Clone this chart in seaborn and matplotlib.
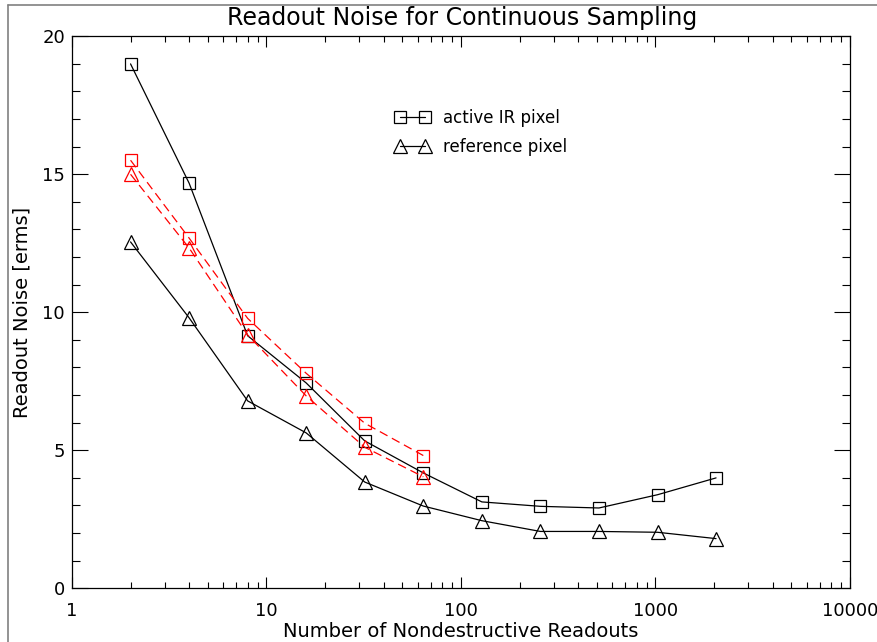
import matplotlib
matplotlib.use('Agg')
import matplotlib.pyplot as plt
import seaborn as sns
import numpy as np
from matplotlib.lines import Line2D
from matplotlib.ticker import FixedLocator, LogLocator, NullFormatter, MultipleLocator

# number of nondestructive readouts
readouts = [2, 4, 8, 16, 32, 64, 128, 256, 512, 1024, 2048]
readouts_red = [2, 4, 8, 16, 32, 64]

# readout noise (e rms)
active_ir = [19.0, 14.68, 9.15, 7.44, 5.34, 4.18, 3.13, 2.97, 2.91, 3.39, 4.0]
reference = [12.55, 9.8, 6.79, 5.63, 3.85, 2.98, 2.45, 2.06, 2.06, 2.03, 1.8]
active_ir_red = [15.51, 12.69, 9.78, 7.79, 5.98, 4.81]
reference_red = [15.0, 12.33, 9.18, 6.97, 5.11, 4.04]

xticks = [1, 10, 100, 1000, 10000]
xticklabels = ['1', '10', '100', '1000', '10000']
yticks = [0, 5, 10, 15, 20]

sns.set_style('ticks')
plt.rcParams['font.family'] = ['DejaVu Sans']
plt.rcParams['text.color'] = 'black'
plt.rcParams['axes.labelcolor'] = 'black'
plt.rcParams['xtick.color'] = 'black'
plt.rcParams['ytick.color'] = 'black'

fig = plt.figure(figsize=(8.78, 6.42), dpi=100)
ax = fig.add_axes([72 / 878, 1 - 588.3 / 642, 778 / 878, 552 / 642])

msz = 9
sns.lineplot(x=readouts, y=active_ir, ax=ax, color='black', lw=0.9, marker='s',
             markersize=msz, markerfacecolor='none', markeredgecolor='black',
             markeredgewidth=0.9, errorbar=None, label='active IR pixel')
sns.lineplot(x=readouts, y=reference, ax=ax, color='black', lw=0.9, marker='^',
             markersize=msz + 1, markerfacecolor='none', markeredgecolor='black',
             markeredgewidth=0.9, errorbar=None, label='reference pixel')
sns.lineplot(x=readouts_red, y=active_ir_red, ax=ax, color='red', lw=0.9, marker='s',
             markersize=msz, markerfacecolor='none', markeredgecolor='red',
             markeredgewidth=0.9, errorbar=None, label='_nolegend_')
sns.lineplot(x=readouts_red, y=reference_red, ax=ax, color='red', lw=0.9, marker='^',
             markersize=msz + 1, markerfacecolor='none', markeredgecolor='red',
             markeredgewidth=0.9, errorbar=None, label='_nolegend_')
for ln in ax.lines[2:]:
    ln.set_dashes((7, 4))

ax.set_xscale('log')
ax.set_xlim(1, 10000)
ax.set_ylim(0, 20)
ax.xaxis.set_major_locator(FixedLocator(xticks))
ax.set_xticklabels(xticklabels)
ax.xaxis.set_minor_locator(LogLocator(base=10, subs=np.arange(2, 10)))
ax.xaxis.set_minor_formatter(NullFormatter())
ax.set_yticks(yticks)
ax.yaxis.set_minor_locator(MultipleLocator(1))

ax.tick_params(axis='x', which='major', direction='in', length=8, width=0.8,
               top=True, bottom=True, labelsize=13, pad=10)
ax.tick_params(axis='x', which='minor', direction='in', length=4, width=0.8,
               top=True, bottom=True)
ax.tick_params(axis='y', which='major', direction='in', length=11.5, width=0.8,
               left=True, right=True, labelsize=13, pad=5)
ax.tick_params(axis='y', which='minor', direction='in', length=5.8, width=0.8,
               left=True, right=True)
for sp in ax.spines.values():
    sp.set_visible(True)
    sp.set_linewidth(0.9)
    sp.set_color('black')

ax.set_xlabel('Number of Nondestructive Readouts', fontsize=14, labelpad=1)
ax.set_ylabel('Readout Noise [erms]', fontsize=14, labelpad=8)
fig.text(462 / 878, 1 - 18.5 / 642, 'Readout Noise for Continuous Sampling',
         ha='center', va='center', fontsize=17)

handles, labels = ax.get_legend_handles_labels()
ax.legend(handles, labels, loc='upper left', bbox_to_anchor=(0.415, 0.868),
          frameon=False, numpoints=2, handlelength=2.1, handletextpad=0.8,
          borderpad=0, borderaxespad=0, labelspacing=0.65, fontsize=12)

# gray frame around the figure (clipped at right and bottom)
fig.add_artist(Line2D([8 / 878, 1], [1 - 4.5 / 642, 1 - 4.5 / 642],
                      transform=fig.transFigure, color='#808080', lw=1.2))
fig.add_artist(Line2D([8 / 878, 8 / 878], [0, 1 - 4.5 / 642],
                      transform=fig.transFigure, color='#808080', lw=1.2))

fig.savefig('out.png', dpi=100)
